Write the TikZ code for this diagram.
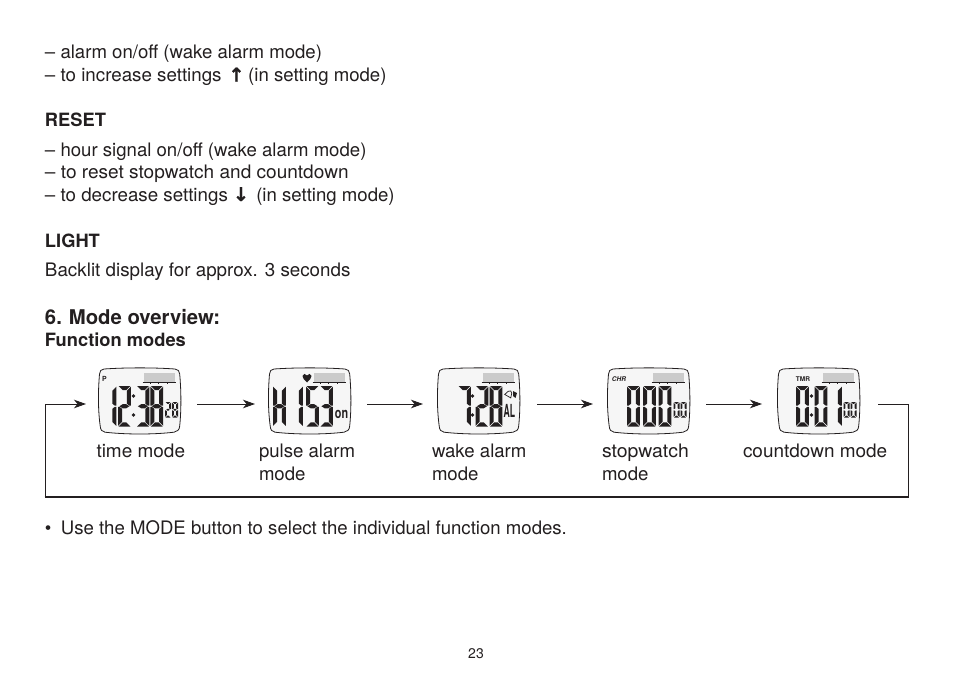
\documentclass[tikz,border=0pt]{standalone}
\usepackage{fontspec}
\setmainfont{TeX Gyre Heros}
\newfontfamily\symfont[FakeBold=1.2]{DejaVu Sans Bold}
\usetikzlibrary{arrows.meta}
\definecolor{ink}{HTML}{231F20}
\definecolor{lcd}{HTML}{F6F6F6}
\definecolor{bar}{HTML}{CBCBCB}
\tikzset{
  x=1pt,y=-1pt,
  txt/.style={anchor=base west,inner sep=0pt,outer sep=0pt,text=ink,font=\fontsize{18.6}{22}\selectfont},
  wide/.style={xscale=#1,transform shape},
  head/.style={txt,font=\fontsize{18.3}{22}\selectfont\bfseries},
  bighead/.style={txt,font=\fontsize{20.3}{24}\selectfont\bfseries},
  sym/.style={anchor=base,inner sep=0pt,outer sep=0pt,text=ink,font=\fontsize{19}{22}\symfont},
  lbl/.style={anchor=center,inner sep=0pt,outer sep=0pt,text=ink,font=\bfseries},
  watch/.style={anchor=north west,minimum width=84pt,minimum height=72pt,inner sep=0pt,outer sep=0pt},
  flow/.style={draw=ink,line width=0.9pt,-{Stealth[length=12pt,width=8.5pt,inset=3.5pt]}},
  loopline/.style={draw=ink,line width=0.9pt},
  loopbase/.style={draw=ink,line width=1.6pt},
}
% seven-segment digit: x, y, width, height, thickness, segments
\newcommand\dig[6]{%
\begin{scope}[shift={(#1,#2)}]
\def\W{#3}\def\H{#4}\def\T{#5}\pgfmathsetmacro\M{#4/2}
\def\G{0.6}
\foreach \s in {#6}{\fill[ink] \csname seg\s\endcsname;}
\end{scope}}
\expandafter\def\csname sega\endcsname{(\G,0) -- (\W-\G,0) -- (\W-\G-\T,\T) -- (\G+\T,\T) -- cycle}
\expandafter\def\csname segd\endcsname{(\G,\H) -- (\W-\G,\H) -- (\W-\G-\T,\H-\T) -- (\G+\T,\H-\T) -- cycle}
\expandafter\def\csname segg\endcsname{(\G+0.8,\M) -- (\T+\G,\M-\T*0.5) -- (\W-\T-\G,\M-\T*0.5) -- (\W-\G-0.8,\M) -- (\W-\T-\G,\M+\T*0.5) -- (\T+\G,\M+\T*0.5) -- cycle}
\expandafter\def\csname segf\endcsname{(0,\G) -- (\T,\G+\T) -- (\T,\M-\G-\T*0.5) -- (\T*0.4,\M-\G) -- (0,\M-\G) -- cycle}
\expandafter\def\csname sege\endcsname{(0,\M+\G) -- (\T*0.4,\M+\G) -- (\T,\M+\G+\T*0.5) -- (\T,\H-\G-\T) -- (0,\H-\G) -- cycle}
\expandafter\def\csname segb\endcsname{(\W,\G) -- (\W-\T,\G+\T) -- (\W-\T,\M-\G-\T*0.5) -- (\W-\T*0.4,\M-\G) -- (\W,\M-\G) -- cycle}
\expandafter\def\csname segc\endcsname{(\W,\M+\G) -- (\W-\T*0.4,\M+\G) -- (\W-\T,\M+\G+\T*0.5) -- (\W-\T,\H-\G-\T) -- (\W,\H-\G) -- cycle}
\def\dZero{a,b,c,d,e,f}\def\dOne{b,c}\def\dTwo{a,b,g,e,d}\def\dThree{a,b,g,c,d}
\def\dFive{a,f,g,c,d}\def\dSeven{a,b,c}\def\dEight{a,b,c,d,e,f,g}\def\dH{b,c,e,f,g}
\newcommand\bigd[2]{\edef\tmplist{#2}\expandafter\bigdx\expandafter{\tmplist}{#1}}
\newcommand\bigdx[2]{\dig{#2}{18}{12.9}{40.5}{4.1}{#1}}
\newcommand\smalld[2]{\edef\tmplist{#2}\expandafter\smalldx\expandafter{\tmplist}{#1}}
\newcommand\smalldx[2]{\dig{#2}{34}{6}{15.5}{1.8}{#1}}
\newcommand\watchbody{%
  \draw[ink,line width=0.8pt,fill=lcd]
    (6,1) .. controls (28,-0.5) and (56,-0.5) .. (77,1)
    .. controls (80,1.3) and (81.5,3) .. (81.7,6)
    .. controls (83.3,24) and (83.3,42) .. (81.7,58)
    .. controls (81.5,62) and (79,63.7) .. (76,64.2)
    .. controls (56,66.6) and (28,66.6) .. (7,64.2)
    .. controls (4,63.7) and (2.5,62) .. (2.2,58)
    .. controls (0,42) and (0,24) .. (1.5,6)
    .. controls (1.8,3) and (3,1.3) .. (6,1) -- cycle;
  \fill[bar] (45.5,5) rectangle (77,14);
  \draw[ink,line width=0.6pt] (44.5,14.3) -- (77.5,14.3);
  \foreach \q in {52,60,69}{\draw[ink,line width=0.5pt] (\q,14.3) -- (\q,16);}
}
\newcommand\colondots[1]{\fill[ink] (#1,28) circle (1.8) (#1,47) circle (1.8);}
\begin{document}
\begin{tikzpicture}
\useasboundingbox (0,0) rectangle (954,677);
\fill[white] (0,0) rectangle (954,677);

% text block
\node[txt] (t1) at (45,58.6) {– alarm on/off (wake alarm mode)};
\node[txt,wide=1.008] (t2) at (45,81.5) {– to increase settings};
\node[sym] (up) at (236.5,81.5) {↑};
\node[txt] (t2b) at (248.2,81.5) {(in setting mode)};
\node[head] (reset) at (45,127) {RESET};
\node[txt] (t3) at (45,156.5) {– hour signal on/off (wake alarm mode)};
\node[txt,wide=1.024] (t4) at (45,178.5) {– to reset stopwatch and countdown};
\node[txt,wide=1.008] (t5) at (45,201) {– to decrease settings};
\node[sym] (down) at (241,201) {↓};
\node[txt] (t5b) at (256.3,201) {(in setting mode)};
\node[head] (light) at (45,247.5) {LIGHT};
\node[txt,wide=1.01] (t6) at (45,276) {Backlit display for approx. 3 seconds};
\node[bighead] (mode) at (45,324) {6.\hspace{7pt}Mode overview:};
\node[head] (func) at (45,346) {Function modes};

% watches (invisible anchors for the connectors)
\node[watch] (w1) at (98,368) {};
\node[watch] (w2) at (268,368) {};
\node[watch] (w3) at (437,368) {};
\node[watch] (w4) at (607,368) {};
\node[watch] (w5) at (777,368) {};

% watch 1: 12:38 28
\begin{scope}[shift={(98,368)}]
\watchbody
\node[lbl,font=\fontsize{7}{7}\selectfont\bfseries] (w1p) at (6.5,11) {P};
\bigd{5.5}{\dOne}\bigd{20}{\dTwo}\colondots{35.5}\bigd{38.5}{\dThree}\bigd{52.3}{\dEight}
\smalld{67}{\dTwo}\smalld{74}{\dEight}
\end{scope}

% watch 2: H 153 on
\begin{scope}[shift={(268,368)}]
\watchbody
\fill[ink] (39,14.5) .. controls (36,11.5) and (34.5,10) .. (34.5,8)
  .. controls (34.5,5.5) and (38,5) .. (39,7.5)
  .. controls (40,5) and (43.5,5.5) .. (43.5,8)
  .. controls (43.5,10) and (42,11.5) .. (39,14.5) -- cycle;
\bigd{5}{\dH}\bigd{22}{\dOne}\bigd{38}{\dFive}\bigd{52}{\dThree}
\node[lbl,font=\fontsize{15}{15}\selectfont\bfseries,xscale=0.72,transform shape] (w2on) at (73.5,46) {on};
\end{scope}

% watch 3: 7:28 AL + bell
\begin{scope}[shift={(437,368)}]
\watchbody
\bigd{21}{\dSeven}\colondots{35.5}\bigd{38.5}{\dTwo}\bigd{52.5}{\dEight}
\draw[ink,line width=0.7pt,rotate around={-30:(72,26)}] (68.5,28.5) -- (70,24) .. controls (71,22) and (73,22) .. (74,24) -- (75.5,28.5) -- cycle;
\fill[ink] (76,23) -- (80,25) -- (78.5,30) -- (76,28) -- cycle;
\node[lbl,font=\fontsize{12}{12}\selectfont\bfseries,xscale=0.72,yscale=1.5,transform shape] (w3al) at (72.5,43) {AL};
\end{scope}

% watch 4: 0 00 00
\begin{scope}[shift={(607,368)}]
\watchbody
\node[lbl,font=\fontsize{6.5}{6.5}\selectfont\bfseries\itshape] (w4chr) at (12,11) {CHR};
\bigd{20}{\dZero}\bigd{36}{\dZero}\bigd{51.5}{\dZero}
\smalld{66.5}{\dZero}\smalld{73.5}{\dZero}
\end{scope}

% watch 5: 0:01 00
\begin{scope}[shift={(777,368)}]
\watchbody
\node[lbl,font=\fontsize{6.5}{6.5}\selectfont\bfseries] (w5tmr) at (26,11) {TMR};
\bigd{19}{\dZero}\colondots{34.5}\bigd{37.5}{\dZero}\bigd{52}{\dOne}
\smalld{66.5}{\dZero}\smalld{73.5}{\dZero}
\end{scope}

% labels
\node[txt,wide=1.02] (l1) at (96.5,457.6) {time mode};
\node[txt] (l2a) at (259,457.6) {pulse alarm};
\node[txt] (l2b) at (259,480.6) {mode};
\node[txt] (l3a) at (432,457.6) {wake alarm};
\node[txt] (l3b) at (432,480.6) {mode};
\node[txt,wide=1.044] (l4a) at (602,457.6) {stopwatch};
\node[txt] (l4b) at (602,480.6) {mode};
\node[txt,wide=1.02] (l5) at (743,457.6) {countdown mode};

% connectors
\draw[flow,shorten <=15pt,shorten >=13pt] (w1) -- (w2);
\draw[flow,shorten <=15pt,shorten >=14pt] (w2) -- (w3);
\draw[flow,shorten <=16pt,shorten >=14pt] (w3) -- (w4);
\draw[flow,shorten <=15pt,shorten >=15pt] (w4) -- (w5);
\coordinate (cr) at (908,404);
\coordinate (br) at (908,497);
\coordinate (bl) at (45.5,497);
\coordinate (cl) at (45.5,404);
\draw[loopline,shorten <=17pt] (w5.east) -- (cr) -- (br);
\draw[loopbase] ([xshift=-0.8pt]bl) -- ([xshift=0.5pt]br);
\draw[flow] (bl) -- (cl) -- ([xshift=-12pt]w1.west);

\node[txt] (note) at (45,534) {•\hspace{9.4pt}Use the MODE button to select the individual function modes.};
\node[anchor=base,inner sep=0pt,text=ink,font=\fontsize{14}{16}\selectfont] (pg) at (476,658) {23};
\end{tikzpicture}
\end{document}
